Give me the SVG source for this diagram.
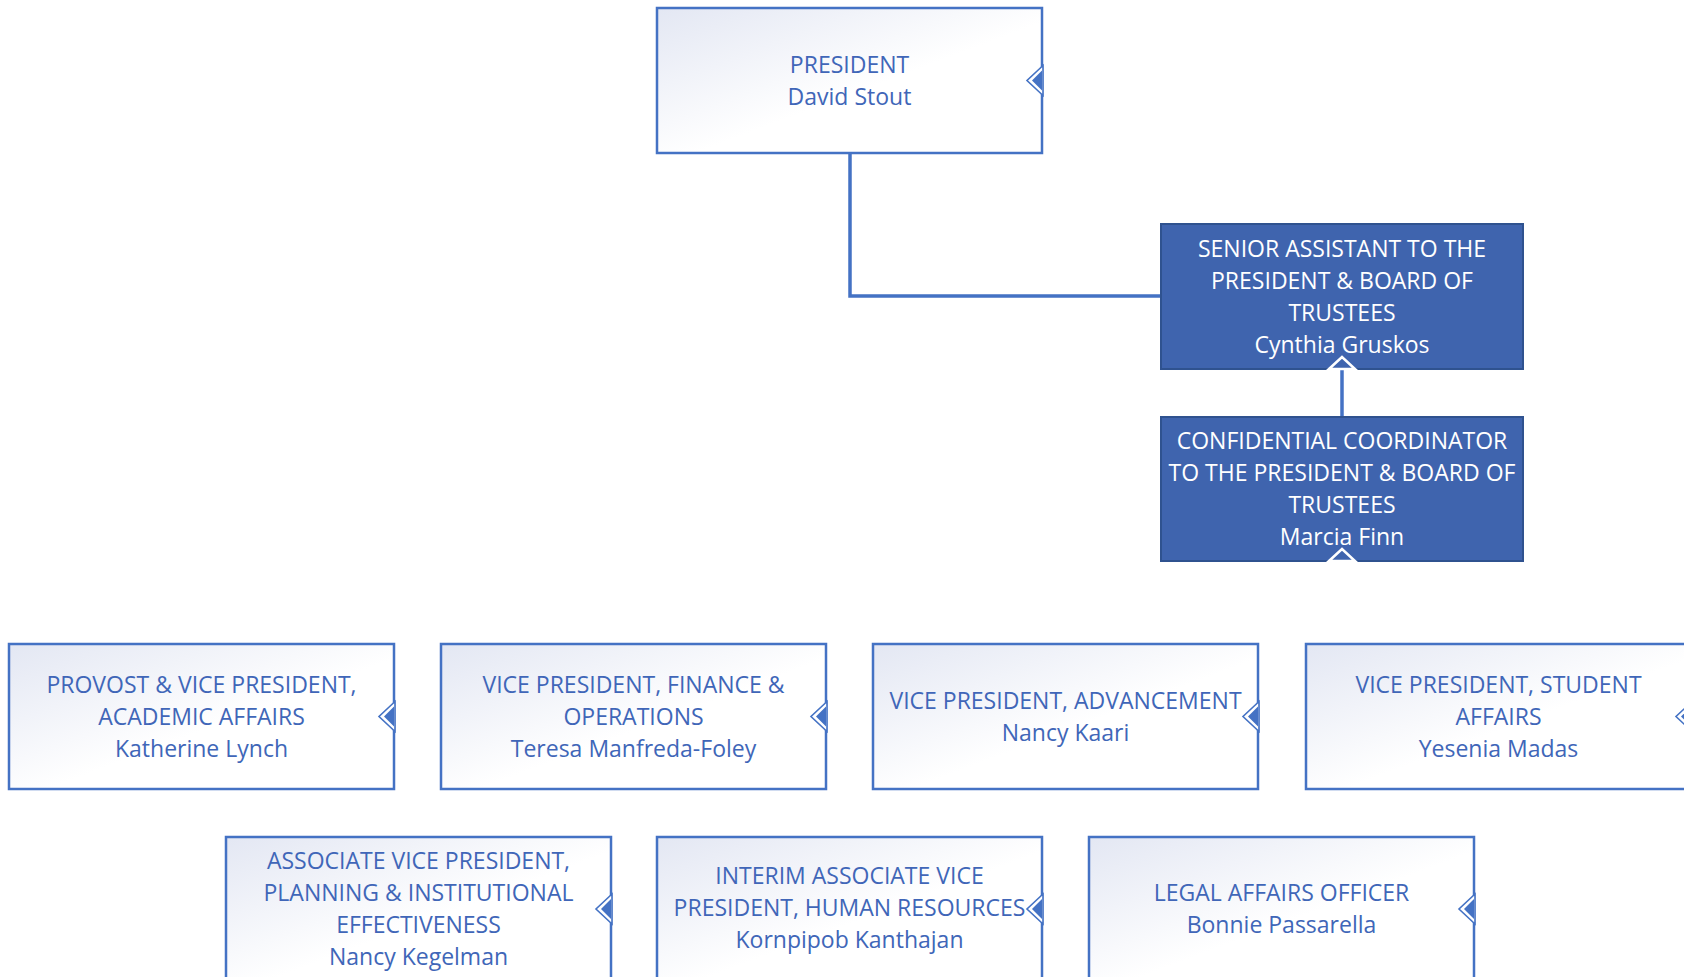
<svg xmlns="http://www.w3.org/2000/svg" xmlns:xlink="http://www.w3.org/1999/xlink" width="1684" height="977" viewBox="0 0 1684 977">
<defs>
<linearGradient id="lg" x1="0" y1="0" x2="1" y2="1">
<stop offset="0" stop-color="#E3E7F3"/>
<stop offset="0.55" stop-color="#FFFFFF"/>
<stop offset="1" stop-color="#FFFFFF"/>
</linearGradient>
<g id="chev">
<polygon points="1,-15 -15,0 1,15" fill="#FFFFFF" stroke="#4472C4" stroke-width="1.6"/>
<polygon points="0,-10 -10,0 0,10" fill="#4472C4"/>
</g>
<g id="upt">
<polygon points="-13,0 0,-12 13,0" fill="#3F64AE" stroke="#FFFFFF" stroke-width="2.5"/>
</g>
</defs>
<style>
.box{fill:url(#lg);stroke:#4472C4;stroke-width:2.5}
.dbox{fill:#3F64AE;stroke:#2F528F;stroke-width:2}
.t{font-family:"Open Sans","Noto Sans",sans-serif;font-size:23px;fill:#4066B8;text-anchor:middle}
.w{fill:#FFFFFF}
.con{fill:none;stroke:#4472C4;stroke-width:3.5}
</style>
<rect width="1684" height="977" fill="#FFFFFF"/>
<g transform="translate(0,1)">
<g id="connectors">
<path class="con" d="M850 152 V295 H1161"/>
<path class="con" d="M1342 368 V416"/>
</g>
<g id="president">
<rect class="box" x="657" y="7" width="385" height="145"/>
<use xlink:href="#chev" x="1042" y="79.5"/>
<text class="t" x="849.5" y="72">PRESIDENT</text>
<text class="t" x="849.5" y="104">David Stout</text>
</g>
<g id="senior-assistant">
<rect class="dbox" x="1161" y="223" width="362" height="145"/>
<use xlink:href="#upt" x="1342" y="368"/>
<text class="t w" x="1342" y="255.5">SENIOR ASSISTANT TO THE</text>
<text class="t w" x="1342" y="287.5">PRESIDENT &amp; BOARD OF</text>
<text class="t w" x="1342" y="319.5">TRUSTEES</text>
<text class="t w" x="1342" y="351.5">Cynthia Gruskos</text>
</g>
<g id="confidential-coordinator">
<rect class="dbox" x="1161" y="416" width="362" height="144"/>
<use xlink:href="#upt" x="1342" y="560"/>
<text class="t w" x="1342" y="447.5">CONFIDENTIAL COORDINATOR</text>
<text class="t w" x="1342" y="479.5">TO THE PRESIDENT &amp; BOARD OF</text>
<text class="t w" x="1342" y="511.5">TRUSTEES</text>
<text class="t w" x="1342" y="543.5">Marcia Finn</text>
</g>
<g id="provost">
<rect class="box" x="9" y="643" width="385" height="145"/>
<use xlink:href="#chev" x="394" y="715.5"/>
<text class="t" x="201.5" y="692">PROVOST &amp; VICE PRESIDENT,</text>
<text class="t" x="201.5" y="724">ACADEMIC AFFAIRS</text>
<text class="t" x="201.5" y="756">Katherine Lynch</text>
</g>
<g id="vp-finance">
<rect class="box" x="441" y="643" width="385" height="145"/>
<use xlink:href="#chev" x="826" y="715.5"/>
<text class="t" x="633.5" y="692">VICE PRESIDENT, FINANCE &amp;</text>
<text class="t" x="633.5" y="724">OPERATIONS</text>
<text class="t" x="633.5" y="756">Teresa Manfreda-Foley</text>
</g>
<g id="vp-advancement">
<rect class="box" x="873" y="643" width="385" height="145"/>
<use xlink:href="#chev" x="1258" y="715.5"/>
<text class="t" x="1065.5" y="708">VICE PRESIDENT, ADVANCEMENT</text>
<text class="t" x="1065.5" y="740">Nancy Kaari</text>
</g>
<g id="vp-student-affairs">
<rect class="box" x="1306" y="643" width="385" height="145"/>
<use xlink:href="#chev" x="1691" y="715.5"/>
<text class="t" x="1498.5" y="692">VICE PRESIDENT, STUDENT</text>
<text class="t" x="1498.5" y="724">AFFAIRS</text>
<text class="t" x="1498.5" y="756">Yesenia Madas</text>
</g>
<g id="avp-planning">
<rect class="box" x="226" y="836" width="385" height="145"/>
<use xlink:href="#chev" x="611" y="908"/>
<text class="t" x="418.5" y="868">ASSOCIATE VICE PRESIDENT,</text>
<text class="t" x="418.5" y="900">PLANNING &amp; INSTITUTIONAL</text>
<text class="t" x="418.5" y="932">EFFECTIVENESS</text>
<text class="t" x="418.5" y="964">Nancy Kegelman</text>
</g>
<g id="interim-avp-hr">
<rect class="box" x="657" y="836" width="385" height="145"/>
<use xlink:href="#chev" x="1042" y="908"/>
<text class="t" x="849.5" y="883">INTERIM ASSOCIATE VICE</text>
<text class="t" x="849.5" y="915">PRESIDENT, HUMAN RESOURCES</text>
<text class="t" x="849.5" y="947">Kornpipob Kanthajan</text>
</g>
<g id="legal-affairs">
<rect class="box" x="1089" y="836" width="385" height="145"/>
<use xlink:href="#chev" x="1474" y="908"/>
<text class="t" x="1281.5" y="900">LEGAL AFFAIRS OFFICER</text>
<text class="t" x="1281.5" y="932">Bonnie Passarella</text>
</g>
</g>
</svg>
